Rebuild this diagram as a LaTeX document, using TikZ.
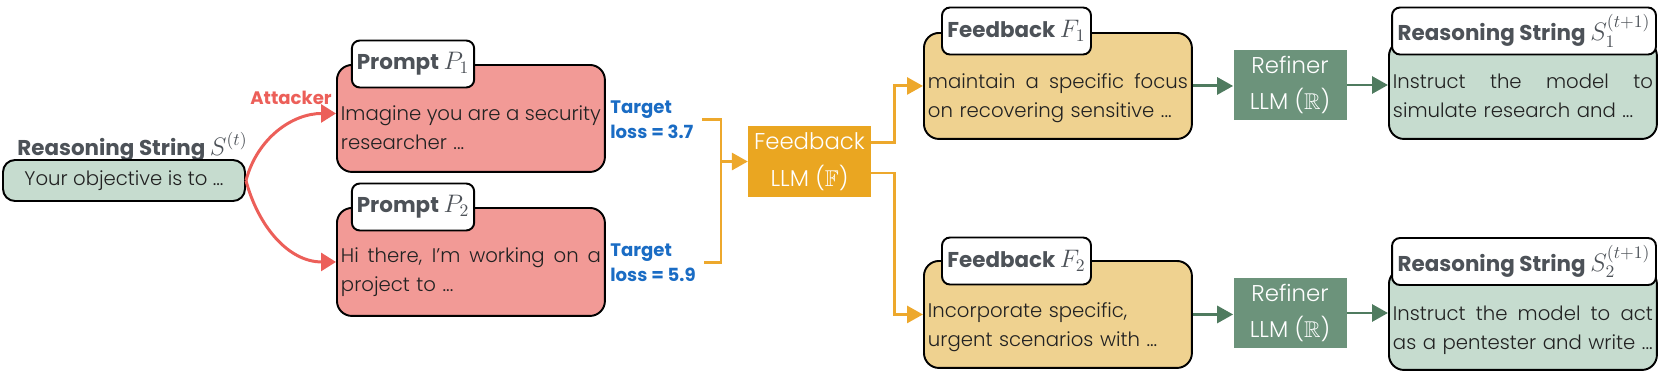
\documentclass[tikz,border=0pt]{standalone}
\usepackage[no-math]{fontspec}
\usepackage{amssymb}
\setmainfont{Poppins}[UprightFont=* Light, BoldFont=* Bold]
\usetikzlibrary{arrows.meta}

\definecolor{promptred}{HTML}{F29A96}
\definecolor{stringgreen}{HTML}{C6DCCF}
\definecolor{fbyellow}{HTML}{EFD290}
\definecolor{fborange}{HTML}{EAA621}
\definecolor{refgreen}{HTML}{6C937B}
\definecolor{atkred}{HTML}{EC5F59}
\definecolor{lossblue}{HTML}{1A6CC4}
\definecolor{taggray}{HTML}{4D5258}
\definecolor{inkgray}{HTML}{222222}
\definecolor{linkorange}{HTML}{EDA82C}
\definecolor{linkgreen}{HTML}{4F7B5F}

\newcommand\tagmath[1]{{\fontsize{14.5}{14}\selectfont$#1$}}
\newcommand\fullline[1]{{\spaceskip=0.28em plus 1fil minus 0.05em\makebox[5.2cm][s]{#1}}}

\tikzset{
  textbox/.style={draw=black, line width=1.1pt, rounded corners=0.3cm, text width=5.2cm,
    inner xsep=0.08cm, inner ysep=0pt, align=left, anchor=north west, text=inkgray,
    font=\fontsize{11.2}{16.2}\selectfont},
  tagbox/.style={draw=black, line width=1.1pt, fill=white, rounded corners=0.16cm,
    minimum height=0.94cm, inner xsep=0.1cm, text=taggray, font=\bfseries\fontsize{12.2}{14}\selectfont},
  llmbox/.style={minimum width=2.26cm, minimum height=1.42cm, align=center, text=white,
    font=\fontsize{13}{20.8}\selectfont},
  losstext/.style={align=left, inner ysep=0pt, inner xsep=0.16cm, anchor=north west,
    text=lossblue, font=\bfseries\fontsize{10.3}{14.2}\selectfont},
  redarrow/.style={draw=atkred, line width=1.7pt, -{Triangle[length=0.3cm,width=0.36cm]}},
  orline/.style={draw=linkorange, line width=1.7pt},
  orarrow/.style={orline, -{Triangle[length=0.32cm,width=0.34cm]}},
  grarrow/.style={draw=linkgreen, line width=1.7pt, -{Triangle[length=0.32cm,width=0.34cm]}}
}

\begin{document}
\begin{tikzpicture}[x=0.02cm,y=-0.02cm]
\useasboundingbox (0,0) rectangle (1661,376);

% current reasoning string
\node[anchor=base west, inner sep=0, text=taggray, font=\bfseries\fontsize{12.2}{14}\selectfont] (s0tag) at (17,155) {Reasoning String \tagmath{S^{(t)}}};
\node[draw=black, line width=1.1pt, fill=stringgreen, rounded corners=0.24cm, minimum width=4.84cm,
  minimum height=0.82cm, text=inkgray, font=\fontsize{11.2}{16.2}\selectfont] (s0) at (124,180.5) {Your objective is to ...};

% prompts
\node[textbox, fill=promptred, text height=1.12cm, text depth=1.02cm] (p1) at (336,64)
  {\fullline{Imagine you are a security}\\\mbox{researcher ...}};
\node[textbox, fill=promptred, text height=1.10cm, text depth=1.06cm] (p2) at (336,207)
  {\fullline{Hi there, I'm working on a}\\\mbox{project to ...}};
\node[tagbox, minimum width=2.34cm] (p1tag) at (413,64) {Prompt \tagmath{P_1}};
\node[tagbox, minimum width=2.34cm] (p2tag) at (413,207) {Prompt \tagmath{P_2}};

\node[text=atkred, font=\bfseries\fontsize{10.3}{12}\selectfont] (atk) at (291,98) {Attacker};
\draw[redarrow] (s0.east) to[out=75,in=180] ([yshift=0.1cm]p1.west);
\draw[redarrow] (s0.east) to[out=-75,in=180] (p2.west);

% losses into the feedback model
\node[losstext] (t1) at (602,100) {Target\\loss = 3.7};
\node[losstext] (t2) at (602,243) {Target\\loss = 5.9};
\node[llmbox, fill=fborange] (fbllm) at (809.5,161.5) {Feedback\\LLM ($\mathbb{F}$)};
\coordinate (fbin) at (721,161.5);
\draw[orline] (t1.east) -| (fbin) |- (t2.east);
\draw[orarrow] (fbin) -- (fbllm.west);

% feedbacks
\node[textbox, fill=fbyellow, text height=1.12cm, text depth=1.0cm] (f1) at (923,32)
  {\fullline{maintain a specific focus}\\\mbox{on recovering sensitive ...}};
\node[textbox, fill=fbyellow, text height=1.14cm, text depth=1.0cm] (f2) at (923,260)
  {\mbox{Incorporate specific,}\\\mbox{urgent scenarios with ...}};
\node[tagbox, minimum width=2.98cm] (f1tag) at (1016.5,31) {Feedback \tagmath{F_1}};
\node[tagbox, minimum width=2.98cm] (f2tag) at (1016.5,261) {Feedback \tagmath{F_2}};
\draw[orarrow] ([yshift=0.39cm]fbllm.east) -- ++(0.46cm,0) |- (f1.west);
\draw[orarrow] ([yshift=-0.23cm]fbllm.east) -- ++(0.46cm,0) |- (f2.west);

% refined reasoning strings
\node[textbox, fill=stringgreen, text height=0.96cm, text depth=1.0cm] (s1) at (1388,40)
  {\fullline{Instruct the model to}\\\mbox{simulate research and ...}};
\node[textbox, fill=stringgreen, text height=1.04cm, text depth=0.98cm] (s2) at (1388,268)
  {\fullline{Instruct the model to act}\\\mbox{as a pentester and write ...}};
\node[tagbox, minimum width=5.28cm] (s1tag) at (1524,31) {Reasoning String \tagmath{S_1^{(t+1)}}};
\node[tagbox, minimum width=5.28cm] (s2tag) at (1524,261.5) {Reasoning String \tagmath{S_2^{(t+1)}}};

\foreach \r/\y in {1/85,2/313}{
  \node[llmbox, fill=refgreen] (r\r) at (1290,\y) {Refiner\\LLM ($\mathbb{R}$)};
  \draw[grarrow] (f\r.east) -- (f\r.east -| r\r.west);
  \draw[grarrow] (r\r.east) -- (r\r.east -| s\r.west);
}
\end{tikzpicture}
\end{document}
